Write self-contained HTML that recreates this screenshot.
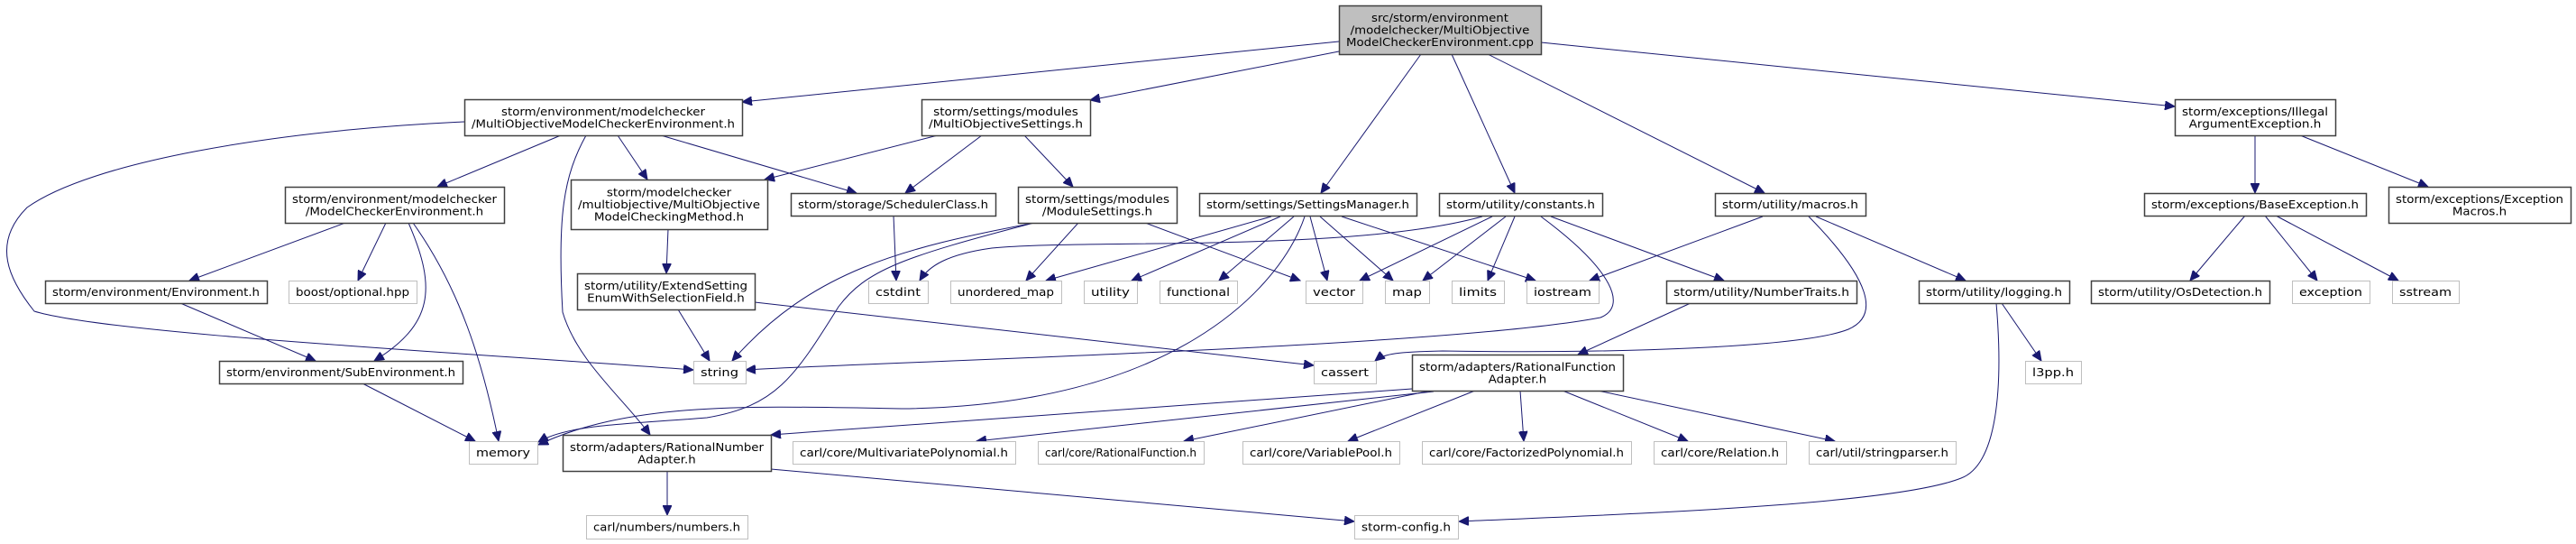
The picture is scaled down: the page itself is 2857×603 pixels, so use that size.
<!DOCTYPE html>
<html><head><meta charset="utf-8"><style>
html,body{margin:0;padding:0;background:#fff;}
svg{display:block;}
text{font-family:"DejaVu Sans","Liberation Sans",sans-serif;font-size:12px;fill:#000;}
</style></head><body>
<svg id="g" width="2857" height="603" viewBox="0 0 2857 603" xmlns="http://www.w3.org/2000/svg">
<defs><marker id="a" markerWidth="12" markerHeight="10" refX="11" refY="5" orient="auto" markerUnits="userSpaceOnUse"><path d="M0,0 L11,5 L0,10 z" fill="#191970" stroke="#191970"/></marker></defs>
<g id="edges" fill="none" stroke="#191970" stroke-width="1"></g>
<g id="nodes"></g>
</svg>
<script>
var N=[
[1485,6,1709,60,["src/storm/environment","/modelchecker/MultiObjective","ModelCheckerEnvironment.cpp"],2],
[515,110,823,150,["storm/environment/modelchecker","/MultiObjectiveModelCheckerEnvironment.h"],1],
[1022,110,1209,150,["storm/settings/modules","/MultiObjectiveSettings.h"],1],
[2412,110,2590,150,["storm/exceptions/Illegal","ArgumentException.h"],1],
[316,207,559,247,["storm/environment/modelchecker","/ModelCheckerEnvironment.h"],1],
[633,199,851,254,["storm/modelchecker","/multiobjective/MultiObjective","ModelCheckingMethod.h"],1],
[877,214,1104,239,["storm/storage/SchedulerClass.h"],1],
[1129,207,1305,247,["storm/settings/modules","/ModuleSettings.h"],1],
[1330,214,1571,239,["storm/settings/SettingsManager.h"],1],
[1596,214,1777,239,["storm/utility/constants.h"],1],
[1902,214,2069,239,["storm/utility/macros.h"],1],
[2378,214,2624,239,["storm/exceptions/BaseException.h"],1],
[2649,207,2851,247,["storm/exceptions/Exception","Macros.h"],1],
[50,311,296,336,["storm/environment/Environment.h"],1],
[320,311,462,336,["boost/optional.hpp"],0],
[640,303,837,343,["storm/utility/ExtendSetting","EnumWithSelectionField.h"],1],
[963,311,1029,336,["cstdint"],0],
[1054,311,1177,336,["unordered_map"],0],
[1202,311,1261,336,["utility"],0],
[1286,311,1372,336,["functional"],0],
[1448,311,1511,336,["vector"],0],
[1536,311,1585,336,["map"],0],
[1610,311,1668,336,["limits"],0],
[1693,311,1773,336,["iostream"],0],
[1848,311,2059,336,["storm/utility/NumberTraits.h"],1],
[2128,311,2295,336,["storm/utility/logging.h"],1],
[2319,311,2517,336,["storm/utility/OsDetection.h"],1],
[2542,311,2628,336,["exception"],0],
[2653,311,2727,336,["sstream"],0],
[243,400,513,425,["storm/environment/SubEnvironment.h"],1],
[769,400,827,425,["string"],0],
[1457,400,1526,425,["cassert"],0],
[1566,393,1800,433,["storm/adapters/RationalFunction","Adapter.h"],1],
[2246,400,2308,425,["l3pp.h"],0],
[520,489,596,514,["memory"],0],
[624,482,855,522,["storm/adapters/RationalNumber","Adapter.h"],1],
[879,489,1126,514,["carl/core/MultivariatePolynomial.h"],0],
[1151,489,1335,514,["carl/core/RationalFunction.h"],0],
[1378,489,1552,514,["carl/core/VariablePool.h"],0],
[1577,489,1809,514,["carl/core/FactorizedPolynomial.h"],0],
[1834,489,1981,514,["carl/core/Relation.h"],0],
[2006,489,2169,514,["carl/util/stringparser.h"],0],
[650,571,829,597,["carl/numbers/numbers.h"],0],
[1502,571,1617,597,["storm-config.h"],0]
];
var E=[
"M1485,46 L823,113","M1485,57 L1209,111","M1576,60 L1465,214","M1610,60 L1680,214","M1650,60 L1957,214","M1709,47 L2412,118",
"M515,135 C300,145 100,180 30,230 C-10,270 10,310 38,345 C120,370 500,390 769,410",
"M622,150 L485,207","M650,150 C625,195 618,240 624,346 C640,400 690,440 721,482","M685,150 L718,199","M733,150 L950,214",
"M1040,150 L848,199","M1089,150 L1004,214","M1136,150 L1190,207",
"M383,247 L210,311","M428,247 L397,311","M453,247 C485,320 480,360 415,400","M458,247 C510,320 535,400 553,489",
"M741,254 L739,303","M991,239 L994,311","M200,336 L350,400","M752,343 L787,400","M837,335 L1457,405",
"M402,425 L527,489","M740,522 L740,571","M855,520 L1502,578",
"M1147,247 C1000,275 900,300 812,400","M1147,247 C1000,285 960,300 930,340 C880,420 860,450 784,463 C700,470 630,470 597,490",
"M1447,240 C1420,320 1300,450 1000,453 C830,450 700,445 597,493",
"M1644,240 C1500,280 1200,265 1100,275 C1050,282 1030,295 1020,311",
"M1709,240 C1790,300 1805,340 1775,352 C1600,385 1000,400 827,410",
"M1410,240 L1160,311","M1420,240 L1255,311","M1435,240 L1352,311","M1453,240 L1472,311","M1464,240 L1545,311","M1488,240 L1703,311",
"M1196,247 L1138,311","M1270,247 L1442,311",
"M1655,240 L1508,311","M1670,240 L1578,311","M1680,240 L1650,311","M1720,240 L1912,311",
"M1955,240 L1763,311","M2006,240 C2075,310 2085,350 2050,365 C2000,385 1800,392 1600,389 C1550,390 1535,392 1525,400","M2014,240 L2180,311",
"M1875,336 L1750,393","M2220,336 L2264,400","M2214,336 C2222,430 2215,515 2175,530 C2100,560 1800,570 1618,578",
"M1566,431 L855,482","M1590,434 L1083,489","M1587,433 L1313,489","M1636,433 L1495,489","M1686,433 L1690,489","M1733,433 L1872,489","M1772,433 L2035,489",
"M2501,150 L2501,214","M2551,150 L2693,207","M2490,239 L2429,311","M2512,239 L2570,311","M2524,239 L2660,311"
];
var ns="http://www.w3.org/2000/svg";
var eg=document.getElementById("edges"),ng=document.getElementById("nodes");
E.forEach(function(d){var p=document.createElementNS(ns,"path");p.setAttribute("d",d);p.setAttribute("marker-end","url(#a)");eg.appendChild(p);});
N.forEach(function(n){
 var r=document.createElementNS(ns,"rect");
 r.setAttribute("x",n[0]+.5);r.setAttribute("y",n[1]+.5);r.setAttribute("width",n[2]-n[0]);r.setAttribute("height",n[3]-n[1]);
 r.setAttribute("fill",n[5]==2?"#bfbfbf":"#fff");r.setAttribute("stroke",n[5]==0?"#bfbfbf":"#404040");r.setAttribute("stroke-width",n[5]==0?1:1.5);
 ng.appendChild(r);
 var L=n[4],cx=(n[0]+n[2])/2,cy=(n[1]+n[3])/2,lh=13.5;
 var y0=cy-(L.length-1)*lh/2+4.5;var ts=[],mx=0;
 L.forEach(function(s,i){var t=document.createElementNS(ns,"text");t.setAttribute("x",cx);t.setAttribute("y",y0+i*lh);t.setAttribute("text-anchor","middle");t.textContent=s;ng.appendChild(t);ts.push(t);var w=t.getComputedTextLength();if(w>mx)mx=w;});
 var target=(n[2]-n[0])-16;var f=target/mx;
 ts.forEach(function(t){var w=t.getComputedTextLength();t.setAttribute("textLength",(w*f).toFixed(1));t.setAttribute("lengthAdjust","spacingAndGlyphs");});
});
</script>
</body></html>
